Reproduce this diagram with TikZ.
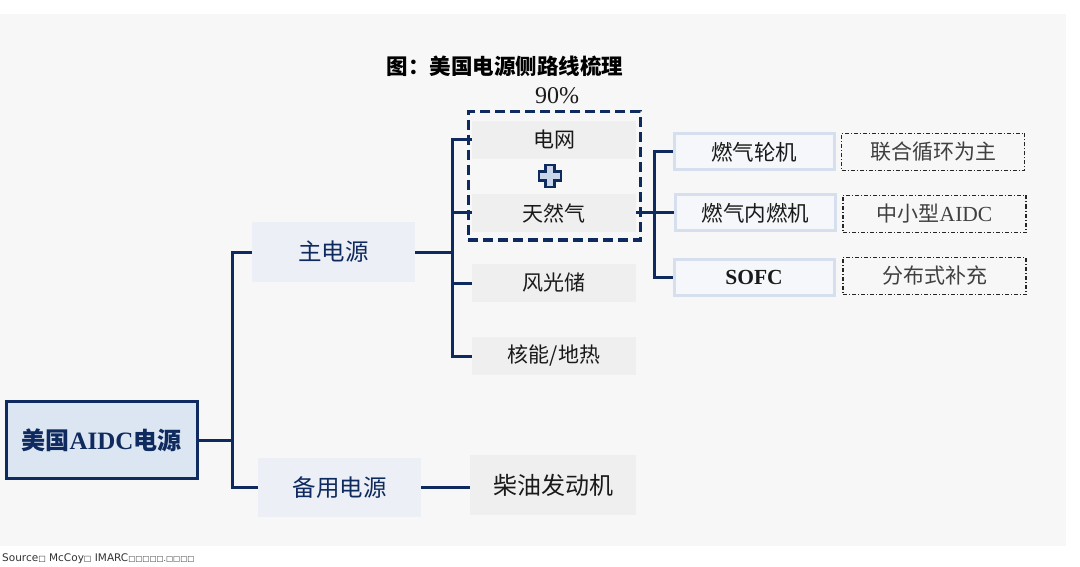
\documentclass[tikz,border=0pt]{standalone}
\usepackage{fontspec}
\setmainfont{Liberation Serif}
\newfontfamily\cjk{Noto Sans CJK SC}
\newfontfamily\dejavu{DejaVu Sans}
\definecolor{navy}{HTML}{0F2A5E}
\definecolor{bgc}{HTML}{F7F7F8}
\definecolor{boxgray}{HTML}{EFEFEF}
\definecolor{boxblue}{HTML}{ECF0F6}
\definecolor{rootfill}{HTML}{DCE6F2}
\definecolor{rborder}{HTML}{D6DFED}
\definecolor{rfill}{HTML}{F5F7FA}
\definecolor{plusfill}{HTML}{C9D6EA}
\definecolor{txt}{HTML}{1A1A1A}
\tikzset{
  conn/.style={draw=navy, line width=3pt},
  graybox/.style={fill=boxgray, minimum width=164pt, minimum height=38pt, inner sep=0pt, text=txt, font=\cjk\fontsize{21}{23}\selectfont},
  bluebox/.style={fill=boxblue, minimum width=163pt, minimum height=59pt, inner sep=0pt, text=navy, font=\cjk\fontsize{23.5}{26}\selectfont},
  rootbox/.style={fill=rootfill, draw=navy, line width=3pt, minimum width=191pt, minimum height=77pt, inner sep=0pt, text=navy},
  rbox/.style={fill=rfill, draw=rborder, line width=3pt, minimum width=160pt, minimum height=36pt, inner sep=0pt, text=txt, font=\cjk\fontsize{21.5}{23}\selectfont},
  ddbox/.style={draw=black!85, line width=1.4pt, dash pattern=on 4pt off 2pt on 1pt off 2pt, minimum width=183pt, minimum height=37pt, inner sep=0pt, text=black!75, font=\cjk\fontsize{21}{23}\selectfont},
  groupbox/.style={draw=navy, line width=3pt, dash pattern=on 10pt off 5pt, minimum width=172pt, minimum height=128pt, inner sep=0pt},
}
\begin{document}
\begin{tikzpicture}[x=1pt,y=-1pt]
\useasboundingbox (0,0) rectangle (1080,567);
\fill[white] (0,0) rectangle (1080,567);
\fill[bgc] (0,14) rectangle (1066,546);

% title
\node[font=\cjk\bfseries\fontsize{21.5}{23}\selectfont, text=black] (title) at (505,66) {图：美国电源侧路线梳理};
\node[font=\fontsize{24}{26}\selectfont, text=txt] (pct) at (557,96) {90\%};

% nodes
\node[rootbox] (root) at (101.5,440) {{\cjk\bfseries\fontsize{24}{26}\selectfont 美国}{\bfseries\fontsize{25}{26}\selectfont AIDC}{\cjk\bfseries\fontsize{24}{26}\selectfont 电源}};
\node[bluebox] (main) at (333.5,252) {主电源};
\node[bluebox] (backup) at (339.5,487.5) {备用电源};

\node[graybox] (grid) at (554,140) {电网};
\node[graybox] (gas) at (554,213) {天然气};
\node[graybox] (wind) at (554,283) {风光储};
\node[graybox] (nuke) at (554,356) {核能/地热};
\node[graybox, minimum height=60pt, minimum width=166pt, font=\cjk\fontsize{24}{26}\selectfont] (diesel) at (553,485) {柴油发动机};

\node[groupbox] (grp) at (554,176) {};

% plus icon
\node[minimum size=24pt, inner sep=0pt] (plus) at (550,176) {};
\draw[navy, line width=2.4pt, fill=plusfill, line join=miter]
  ([shift={(-4.5,-11)}]plus.center) -- ++(9,0) -- ++(0,6.5) -- ++(6.5,0) -- ++(0,9) -- ++(-6.5,0)
  -- ++(0,6.5) -- ++(-9,0) -- ++(0,-6.5) -- ++(-6.5,0) -- ++(0,-9) -- ++(6.5,0) -- cycle;

\node[rbox] (turb) at (754,152) {燃气轮机};
\node[rbox] (ice) at (755.5,213) {燃气内燃机};
\node[rbox, font=\bfseries\fontsize{21.5}{23}\selectfont] (sofc) at (754,277) {SOFC};

\node[ddbox] (dd1) at (933,152) {联合循环为主};
\node[ddbox] (dd2) at (934.5,214) {中小型{\rmfamily\fontsize{21.5}{23}\selectfont AIDC}};
\node[ddbox] (dd3) at (934.5,276) {分布式补充};

% connectors
\coordinate (j1) at (232,440);
\coordinate (j2) at (452,252);
\coordinate (j3) at (654,213);
\draw[conn] (root.east) -- (j1);
\draw[conn] (main.west) -| (j1) |- (backup.west);
\draw[conn] (main.east) -- (j2);
\draw[conn] (grid.west) -| (j2) |- (nuke.west);
\draw[conn] (gas.west) -- (gas.west -| j2);
\draw[conn] (wind.west) -- (wind.west -| j2);
\draw[conn] (gas.east) -- (ice.west);
\draw[conn] (turb.west) -| (j3) |- (sofc.west);
\draw[conn] (backup.east) -- (backup.east -| diesel.west);

% source
\node[anchor=west, font=\dejavu\fontsize{10.5}{12}\selectfont, text=black!80, inner sep=0pt] (src) at (2,559) {Source{\fontsize{8}{9}\selectfont □} McCoy{\fontsize{8}{9}\selectfont □} IMARC{\fontsize{7.5}{9}\selectfont □□□□□.□□□□}};
\end{tikzpicture}
\end{document}
